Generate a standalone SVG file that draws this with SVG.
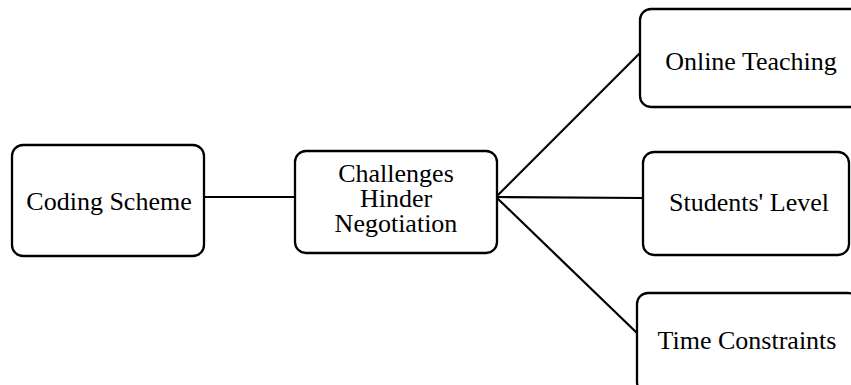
<svg xmlns="http://www.w3.org/2000/svg" width="851" height="385" viewBox="0 0 851 385">
<style>
.box{fill:#fff;stroke:#000;stroke-width:2.3}
.lbl{font-family:"Liberation Serif","Times New Roman",serif;font-size:26px;fill:#000;text-anchor:middle}
.con{stroke:#000;stroke-width:2.2;fill:none}
</style>
<rect width="851" height="385" fill="#fff"/>
<g id="connectors">
<line class="con" x1="204" y1="197" x2="295" y2="197"/>
<line class="con" x1="496" y1="197" x2="640" y2="53"/>
<line class="con" x1="496" y1="197" x2="643" y2="198"/>
<line class="con" x1="496" y1="197" x2="637" y2="333"/>
</g>
<g id="coding">
<rect class="box" x="12" y="145" width="192" height="111" rx="11"/>
<text class="lbl" x="109" y="210">Coding Scheme</text>
</g>
<g id="challenges">
<rect class="box" x="295" y="151" width="202" height="102" rx="11"/>
<text class="lbl" x="396" y="182">Challenges</text>
<text class="lbl" x="396" y="207">Hinder</text>
<text class="lbl" x="396" y="232">Negotiation</text>
</g>
<g id="online">
<rect class="box" x="640" y="9" width="222" height="98" rx="11"/>
<text class="lbl" x="751" y="70">Online Teaching</text>
</g>
<g id="students">
<rect class="box" x="643" y="152" width="206" height="103" rx="11"/>
<text class="lbl" x="749" y="211">Students' Level</text>
</g>
<g id="time">
<rect class="box" x="637" y="293" width="222" height="100" rx="11"/>
<text class="lbl" x="747" y="349">Time Constraints</text>
</g>
</svg>
